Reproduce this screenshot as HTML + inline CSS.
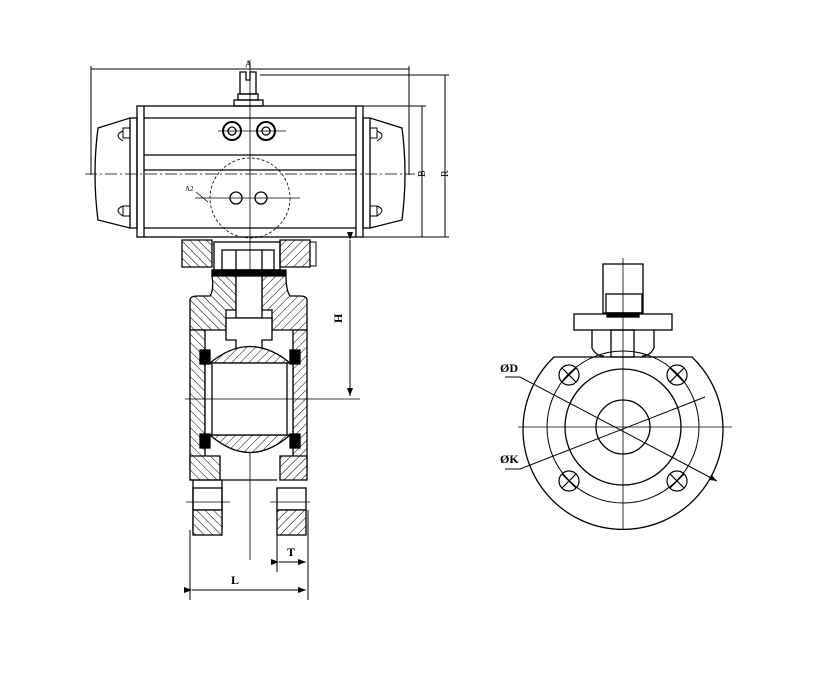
<!DOCTYPE html>
<html><head><meta charset="utf-8"><style>
html,body{margin:0;padding:0;background:#fff}
svg{display:block}
text{font-family:"Liberation Serif",serif;fill:#000}
</style></head><body>
<svg width="840" height="700" viewBox="0 0 840 700" xmlns="http://www.w3.org/2000/svg">
<defs>
<pattern id="h" width="6" height="6" patternUnits="userSpaceOnUse" patternTransform="rotate(45)">
<rect width="6" height="6" fill="#fff"/><line x1="0" y1="0" x2="0" y2="6" stroke="#000" stroke-width="1"/></pattern>
<pattern id="h2" width="6" height="6" patternUnits="userSpaceOnUse" patternTransform="rotate(-45)">
<rect width="6" height="6" fill="#fff"/><line x1="0" y1="0" x2="0" y2="6" stroke="#000" stroke-width="1"/></pattern>
<marker id="ar" markerWidth="8" markerHeight="6" refX="8" refY="3" orient="auto"><path d="M0,0 L8,3 L0,6z" fill="#000"/></marker>
</defs>
<g fill="none" stroke="#000" stroke-width="1.3">
<!-- dims actuator -->
<line x1="91" y1="69" x2="409" y2="69" stroke-width="1"/>
<line x1="91" y1="66" x2="91" y2="175" stroke-width="1"/>
<line x1="409" y1="66" x2="409" y2="175" stroke-width="1"/>
<line x1="260" y1="75" x2="449" y2="75" stroke-width="1"/>
<line x1="363" y1="106" x2="426" y2="106" stroke-width="1"/>
<line x1="363" y1="237" x2="449" y2="237" stroke-width="1"/>
<line x1="422" y1="106" x2="422" y2="237" stroke-width="1"/>
<line x1="445" y1="75" x2="445" y2="237" stroke-width="1"/>
<!-- stem top -->
<path d="M240,72 h6 v8 h4 v-8 h6 v22 h-16z"/>
<rect x="238" y="94" width="20" height="6"/>
<rect x="234" y="100" width="29" height="6"/>
<!-- body -->
<rect x="137" y="106" width="226" height="131"/>
<line x1="144" y1="106" x2="144" y2="237"/>
<line x1="356" y1="106" x2="356" y2="237"/>
<line x1="144" y1="118" x2="356" y2="118"/>
<line x1="144" y1="155" x2="356" y2="155"/>
<line x1="144" y1="170" x2="356" y2="170"/>
<line x1="144" y1="228" x2="356" y2="228"/>
<!-- end caps -->
<path d="M130,118 L98,128 Q92,174 98,220 L130,228"/>
<rect x="130" y="118" width="7" height="110"/>
<path d="M370,118 L402,128 Q408,174 402,220 L370,228"/>
<rect x="363" y="118" width="7" height="110"/>
<path d="M130,128 h-7 v10 h7 M123,131 q-10,4 0,10 M130,206 h-7 v10 h7 M123,206 q-10,4 0,10" stroke-width="1"/>
<path d="M370,128 h7 v10 h-7 M377,131 q10,4 0,10 M370,206 h7 v10 h-7 M377,206 q10,4 0,10" stroke-width="1"/>
<circle cx="232" cy="131" r="9" stroke-width="2"/><circle cx="232" cy="131" r="4"/>
<circle cx="266" cy="131" r="9" stroke-width="2"/><circle cx="266" cy="131" r="4"/>
<line x1="218" y1="131" x2="286" y2="131" stroke-width="0.8"/>
<circle cx="250" cy="198" r="40" stroke-dasharray="3,2" stroke-width="0.8"/>
<circle cx="236" cy="198" r="6"/><circle cx="261" cy="198" r="6"/>
<line x1="195" y1="198" x2="300" y2="198" stroke-width="0.8"/>
<path d="M196,192 L208,202" stroke-width="0.8"/>
<line x1="85" y1="174" x2="415" y2="174" stroke-dasharray="12,3,2,3" stroke-width="0.8"/>
<line x1="250" y1="60" x2="250" y2="560" stroke-width="0.8"/>
<!-- valve top flange -->
<path d="M182,240 H212 V267 H182z" fill="url(#h2)"/>
<path d="M280,240 H310 V267 H280z" fill="url(#h)"/>
<path d="M310,242 h6 v24 h-6" stroke-width="1"/>
<rect x="214" y="242" width="66" height="28"/>
<rect x="222" y="250" width="52" height="20"/>
<line x1="236" y1="250" x2="236" y2="270"/><line x1="262" y1="250" x2="262" y2="270"/>
<rect x="212" y="270" width="74" height="6" fill="#000"/>
<!-- neck -->
<path d="M212,276 H236 V310 H226 V330 H190 V300 Q190,296 198,296 H210 Q214,290 212,276z" fill="url(#h2)"/>
<path d="M286,276 H262 V310 H272 V330 H307 V300 Q307,296 300,296 H290 Q286,290 286,276z" fill="url(#h)"/>
<rect x="236" y="276" width="26" height="42" fill="#fff"/>
<path d="M226,318 H272 V340 H262 V355 H236 V340 H226z" fill="#fff"/>
<!-- body walls -->
<path d="M190,330 H205 V470 H190z" fill="url(#h2)"/>
<path d="M293,330 H307 V470 H293z" fill="url(#h)"/>
<path d="M190,456 H220 V480 H190z" fill="url(#h2)"/>
<path d="M280,456 H307 V480 H280z" fill="url(#h)"/>
<!-- ball -->
<path d="M210,363 Q250,330 290,363z" fill="url(#h)"/>
<path d="M210,435 Q250,470 290,435z" fill="url(#h)"/>
<rect x="205" y="363" width="88" height="72" fill="#fff"/>
<line x1="212" y1="363" x2="212" y2="435"/><line x1="287" y1="363" x2="287" y2="435"/>
<rect x="200" y="350" width="10" height="14" fill="#000"/>
<rect x="290" y="350" width="10" height="14" fill="#000"/>
<rect x="200" y="434" width="10" height="14" fill="#000"/>
<rect x="290" y="434" width="10" height="14" fill="#000"/>
<!-- lower -->
<path d="M190,480 H222 V530 H193 V480" fill="none"/>
<rect x="193" y="488" width="29" height="22"/>
<rect x="193" y="510" width="29" height="25" fill="url(#h2)"/>
<rect x="277" y="488" width="29" height="22"/>
<rect x="277" y="510" width="29" height="25" fill="url(#h)"/>
<path d="M222,480 H277" />
<line x1="185" y1="399" x2="360" y2="399" stroke-width="0.8"/>
<line x1="186" y1="502" x2="230" y2="502" stroke-width="0.8"/>
<line x1="270" y1="502" x2="310" y2="502" stroke-width="0.8"/>
<!-- H dim -->
<line x1="350" y1="240" x2="350" y2="396" stroke-width="1" marker-start="url(#ar)" marker-end="url(#ar)"/>
<!-- L,T dims -->
<line x1="190" y1="530" x2="190" y2="600" stroke-width="1"/>
<line x1="308" y1="510" x2="308" y2="600" stroke-width="1"/>
<line x1="277" y1="535" x2="277" y2="572" stroke-width="1"/>
<line x1="192" y1="590" x2="306" y2="590" stroke-width="1" marker-start="url(#ar)" marker-end="url(#ar)"/>
<line x1="279" y1="562" x2="306" y2="562" stroke-width="1" marker-start="url(#ar)" marker-end="url(#ar)"/>
<!-- right view -->
<rect x="603" y="264" width="40" height="49"/>
<rect x="606" y="294" width="36" height="19"/>
<rect x="607" y="313" width="32" height="4" fill="#000"/>
<rect x="574" y="314" width="98" height="16"/>
<path d="M592,330 V348 Q596,356 604,356 M654,330 V348 Q650,356 642,356"/>
<rect x="611" y="330" width="23" height="27"/>
<path d="M554,357 H692 A100,100 0 1 1 554,357z" transform="translate(-0,0)"/>
<circle cx="623" cy="427" r="76" stroke-width="1"/>
<circle cx="623" cy="427" r="58"/>
<circle cx="623" cy="427" r="27"/>
<g stroke-width="1.2">
<circle cx="569" cy="375" r="10"/><circle cx="677" cy="375" r="10"/>
<circle cx="569" cy="481" r="10"/><circle cx="677" cy="481" r="10"/>
<path d="M562,368 l14,14 M576,368 l-14,14 M670,368 l14,14 M684,368 l-14,14 M562,474 l14,14 M576,474 l-14,14 M670,474 l14,14 M684,474 l-14,14"/>
</g>
<line x1="623" y1="258" x2="623" y2="530" stroke-width="0.8"/>
<line x1="518" y1="427" x2="732" y2="427" stroke-width="0.8"/>
<path d="M505,377 H520 L717,481" stroke-width="1" marker-end="url(#ar)"/>
<path d="M505,469 H520 L705,397" stroke-width="1"/>
</g>
<text x="245" y="67" font-size="9">A</text>
<text x="185" y="191" font-size="7">A2</text>
<text x="418" y="178" font-size="10" transform="rotate(-90 421 174)">B</text>
<text x="441" y="178" font-size="10" transform="rotate(-90 444 174)">R</text>
<text x="333" y="322" font-size="12" font-weight="bold" transform="rotate(-90 338 318)">H</text>
<text x="287" y="556" font-size="12" font-weight="bold">T</text>
<text x="231" y="584" font-size="12" font-weight="bold">L</text>
<text x="500" y="372" font-size="12" font-weight="bold">ØD</text>
<text x="500" y="463" font-size="12" font-weight="bold">ØK</text>
</svg>
</body></html>
